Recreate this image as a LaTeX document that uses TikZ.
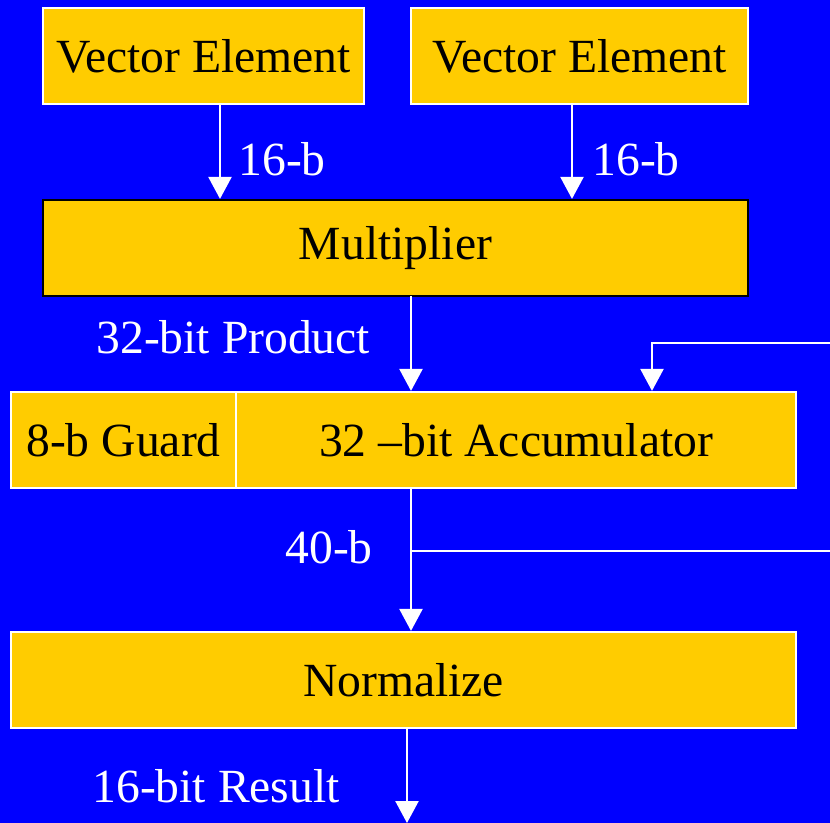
\documentclass[tikz,border=0pt]{standalone}
\usepackage{fontspec}
\newfontfamily\tms{LiberationSerif}[Extension=.ttf,UprightFont=*-Regular]
\usetikzlibrary{arrows.meta}
\definecolor{bg}{RGB}{0,0,255}
\definecolor{gold}{RGB}{255,204,0}
\begin{document}
\begin{tikzpicture}[x=0.5pt,y=-0.5pt,
  font=\tms\fontsize{23.8}{28}\selectfont,
  blk/.style={draw=white,line width=1.1pt,fill=gold,text=black,inner sep=0pt,rectangle},
  lbl/.style={text=white,inner sep=0pt},
  arr/.style={draw=white,line width=1.2pt,-{Triangle[width=11.5pt,length=11pt]}},
  wire/.style={draw=white,line width=1.2pt}]
\fill[bg] (0,0) rectangle (830,823);
\useasboundingbox (0,0) rectangle (830,823);
\node[blk,minimum width=160.5pt,minimum height=48pt] (ve1) at (203.5,56) {Vector Element};
\node[blk,minimum width=168.5pt,minimum height=48pt] (ve2) at (579.5,56) {Vector Element};
\node[blk,draw=black,minimum width=352.5pt,minimum height=48pt] (mul) at (395.5,248) {Multiplier};
\node[blk,minimum width=112.5pt,minimum height=48pt] (grd) at (123.5,440) {8-b Guard};
\node[blk,minimum width=280pt,minimum height=48pt] (acc) at (516,440) {32 –bit Accumulator};
\node[blk,minimum width=392.5pt,minimum height=48pt] (nrm) at (403.5,680) {Normalize};
\coordinate (a1) at (220,104);
\coordinate (a2) at (572,104);
\coordinate (m1) at (411,296);
\coordinate (fbR) at (830,343);
\coordinate (fbT) at (652,343);
\coordinate (c1) at (411,488);
\coordinate (tap) at (411,551);
\coordinate (outR) at (830,551);
\coordinate (n1) at (407,728);
\coordinate (res) at (407,823);
\draw[arr] (a1) -- (a1 |- mul.north);
\draw[arr] (a2) -- (a2 |- mul.north);
\draw[arr] (m1) -- (m1 |- acc.north);
\draw[arr] (fbR) -- (fbT) -- (fbT |- acc.north);
\draw[arr] (c1) -- (c1 |- nrm.north);
\draw[wire] (tap) -- (outR);
\draw[arr] (n1) -- (res);
\node[lbl,anchor=base west] (l1) at (238,176) {16-b};
\node[lbl,anchor=base west] (l2) at (592,176) {16-b};
\node[lbl,anchor=base west] (l3) at (96,354) {32-bit Product};
\node[lbl,anchor=base west] (l4) at (285,563) {40-b};
\node[lbl,anchor=base west] (l5) at (92,802) {16-bit Result};
\end{tikzpicture}
\end{document}
